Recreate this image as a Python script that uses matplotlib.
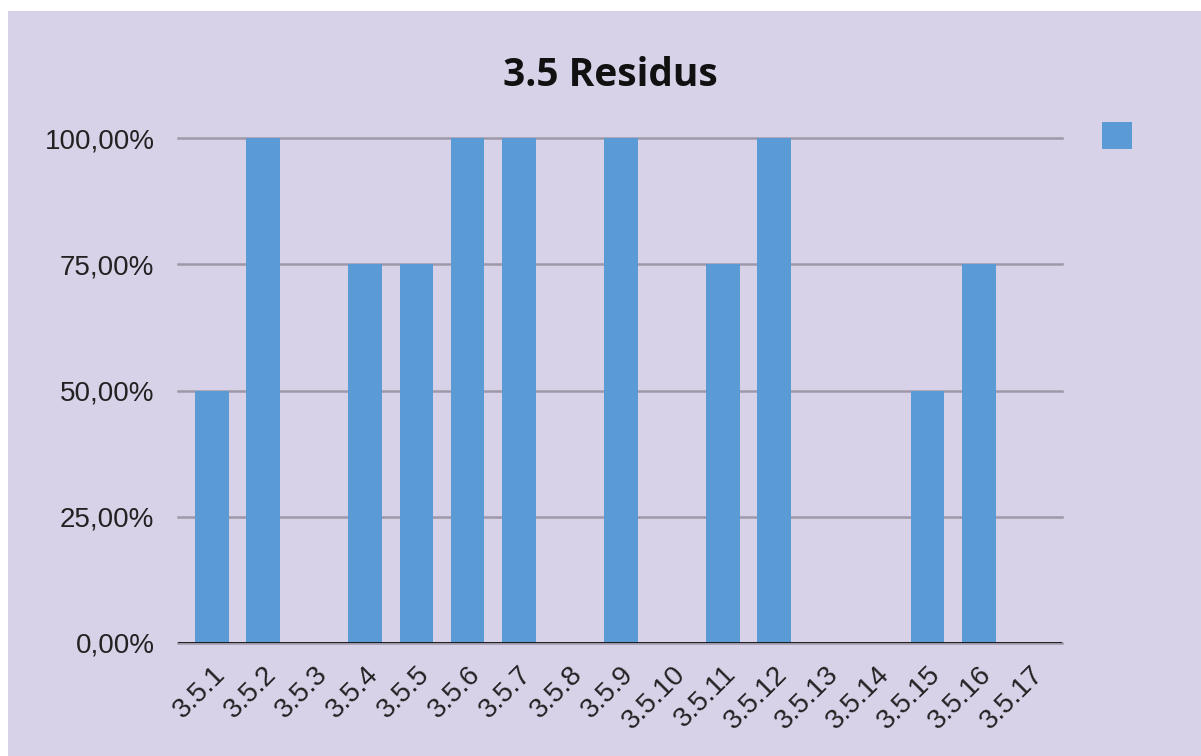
import matplotlib.pyplot as plt
from matplotlib.patches import Patch, Rectangle
from matplotlib.ticker import FuncFormatter

categories = ['3.5.1', '3.5.2', '3.5.3', '3.5.4', '3.5.5', '3.5.6', '3.5.7', '3.5.8', '3.5.9',
              '3.5.10', '3.5.11', '3.5.12', '3.5.13', '3.5.14', '3.5.15', '3.5.16', '3.5.17']
values = [0.50, 1.00, 0.00, 0.75, 0.75, 1.00, 1.00, 0.00, 1.00,
          0.00, 0.75, 1.00, 0.00, 0.00, 0.50, 0.75, 0.00]
yticks = [0, 0.25, 0.50, 0.75, 1.00]

bg = '#d8d2e9'
bar_color = '#5b9bd5'

plt.rcParams['font.family'] = ['Liberation Sans', 'DejaVu Sans']

fig = plt.figure(figsize=(12.01, 7.56), dpi=100, facecolor='white')
# lavender panel with a thin white border at top and left
fig.add_artist(Rectangle((8 / 1201, 0), 1, 1 - 11 / 756, transform=fig.transFigure,
                         facecolor=bg, edgecolor='none', zorder=-10))

ax = fig.add_axes([178 / 1201, 113 / 756, 884 / 1201, 505 / 756])
ax.set_facecolor('none')

x = list(range(len(categories)))
ax.bar(x, values, width=0.66, color=bar_color, zorder=3)

ax.set_xlim(-0.665, 16.63)
ax.set_ylim(0, 1.0)
ax.set_yticks(yticks)
ax.yaxis.set_major_formatter(FuncFormatter(lambda v, p: f'{v * 100:.2f}%'.replace('.', ',')))
ax.grid(axis='y', color='#9e98a8', linewidth=1.8, zorder=1)
for gl in ax.get_ygridlines():
    gl.set_clip_on(False)
ax.axhline(0, color='#111111', linewidth=2, zorder=4)

for s in ax.spines.values():
    s.set_visible(False)
ax.tick_params(axis='both', length=0, labelsize=20, labelcolor='#222222')
ax.tick_params(axis='y', pad=17)
ax.tick_params(axis='x', pad=13)
ax.set_xticks(x)
ax.set_xticklabels(categories, rotation=45, ha='right', va='top', rotation_mode='anchor', fontsize=20)

fig.text(610 / 1201, 1 - 75 / 756, '3.5 Residus', ha='center', va='center',
         fontsize=28, fontweight='bold', family=['Open Sans', 'DejaVu Sans'], color='#111111')

leg = ax.legend([Patch(facecolor=bar_color, edgecolor='none')], [''], loc='center',
                bbox_to_anchor=(1117 / 1201, 1 - 137 / 756), bbox_transform=fig.transFigure,
                frameon=False, handlelength=1, handleheight=1, fontsize=21,
                handletextpad=0, borderpad=0)

fig.savefig('out.png', dpi=100, facecolor=fig.get_facecolor())
